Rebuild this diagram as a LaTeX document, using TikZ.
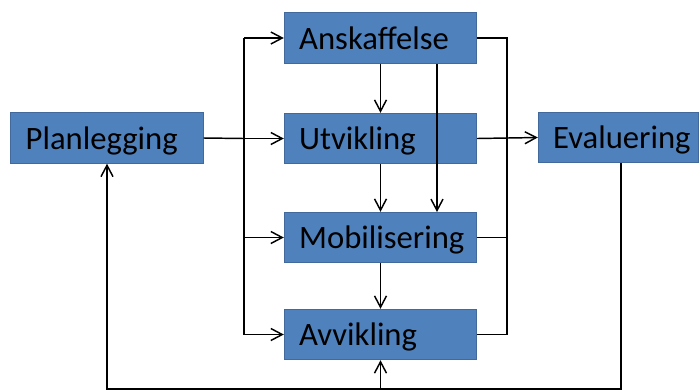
\documentclass[tikz,border=0pt]{standalone}
\usepackage{fontspec}
\setmainfont{Carlito}
\usetikzlibrary{arrows.meta}
\definecolor{boxblue}{HTML}{4F81BD}
\definecolor{boxline}{HTML}{41699B}

\begin{document}
\begin{tikzpicture}[x=0.75pt,y=-0.75pt,line width=1.1pt,
  fase/.style={draw=boxline,fill=boxblue,line width=0.6pt,inner xsep=11.25pt,
    minimum height=38pt,text height=17pt,text depth=0pt,align=left,
    text width=122pt,font=\fontsize{24.5}{28}\selectfont},
  pil/.style={-{Straight Barb[length=8.5pt,width=9pt]}}]
\useasboundingbox (0,0) rectangle (699,390);
% faser
\node [fase] (plan) at (107,138) {Planlegging};
\node [fase] (ansk) at (380.5,38) {Anskaffelse};
\node [fase] (utv) at (380.5,138.5) {Utvikling};
\node [fase] (mob) at (380.5,237.5) {Mobilisering};
\node [fase] (avv) at (380.5,334.5) {Avvikling};
\node [fase,text width=98pt] (eval) at (618.5,137.5) {Evaluering};
% fordeling fra planlegging
\coordinate (vtop) at (244,38);
\coordinate (vbot) at (244,334.5);
\draw (plan.east) -- (utv.west -| vtop);
\draw (vtop) -- (vbot);
\draw [pil] (vtop) -- (ansk.west);
\draw [pil] (utv.west -| vtop) -- (utv.west);
\draw [pil] (mob.west -| vtop) -- (mob.west);
\draw [pil] (vbot) -- (avv.west);
% nedover
\draw [pil] (ansk.south) -- (utv.north);
\draw [pil] (utv.south) -- (mob.north);
\draw [pil] (mob.south) -- (avv.north);
\draw [pil] (437,64) -- (437,212);
% samling til evaluering
\coordinate (htop) at (507,38);
\draw (ansk.east) -- (htop) -- (avv.east -| htop) -- (avv.east);
\draw (mob.east) -- (mob.east -| htop);
\draw [pil] (utv.east) -- (eval.west);
% tilbake
\coordinate (bunn) at (621,389);
\draw [pil] (eval.south -| bunn) -- (bunn) -- (plan.south |- bunn) -- (plan.south);
\draw [pil] (avv.south |- bunn) -- (avv.south);
\end{tikzpicture}
\end{document}
